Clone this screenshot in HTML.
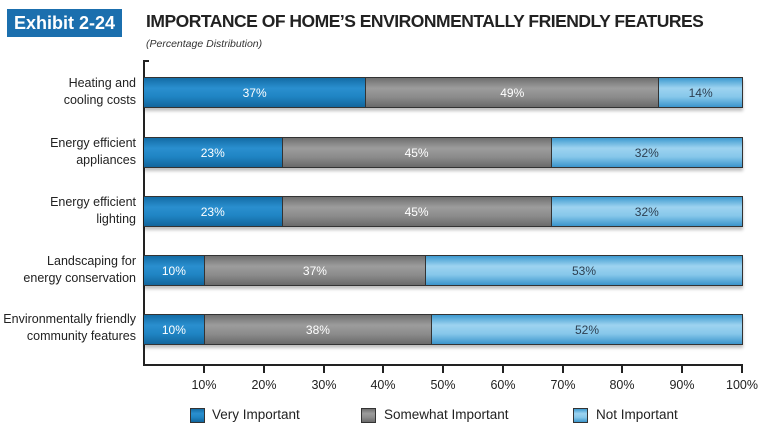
<!DOCTYPE html>
<html><head><style>
body{margin:0;width:775px;height:441px;background:#fff;font-family:"Liberation Sans",sans-serif;position:relative;overflow:hidden}
.a{position:absolute}
.ex{left:7px;top:9px;width:115px;height:28px;background:#1b6fae;color:#fff;font-weight:bold;font-size:18px;line-height:28px;text-align:center}
.t{left:146px;top:11px;font-weight:bold;font-size:17.5px;color:#222;letter-spacing:-0.5px}
.st{left:146px;top:38px;font-style:italic;font-size:10.5px;color:#333}
.lab{right:639px;text-align:right;font-size:12.5px;color:#222;line-height:17px}
.bar{left:144px;width:599px;height:31px;display:flex;border-top:1px solid #333;border-bottom:1px solid #333;border-right:1px solid #333;box-sizing:border-box;box-shadow:0 3px 3px rgba(0,0,0,0.25)}
.bar div{height:100%;color:#fff;font-size:12px;display:flex;align-items:center;justify-content:center;box-sizing:border-box}
.v{background:linear-gradient(#136ca5,#2a8fcf 35%,#1f84c3 65%,#12659c)}
.s{background:linear-gradient(#6f6f6f,#9c9c9c 35%,#8c8c8c 65%,#6a6a6a);border-left:1px solid #333}
.n{background:linear-gradient(#3d9ad0,#9dd3f0 35%,#86c7ea 65%,#3b95cb);border-left:1px solid #333;color:#2c3e50!important}
.tk{top:366px;width:2px;height:7px;background:#222}
.tl{top:378px;font-size:12.5px;color:#222;width:50px;text-align:center}
.lg{top:408px;width:15px;height:15px;border:1px solid #333;box-sizing:border-box}
.lt{top:407px;font-size:13.5px;color:#222}
</style></head><body>
<div class="a ex">Exhibit 2-24</div>
<div class="a t">IMPORTANCE OF HOME’S ENVIRONMENTALLY FRIENDLY FEATURES</div>
<div class="a st">(Percentage Distribution)</div>
<div class="a" style="left:143px;top:60px;width:2px;height:306px;background:#222"></div>
<div class="a" style="left:143px;top:60px;width:6px;height:2px;background:#222"></div>
<div class="a" style="left:143px;top:364px;width:600px;height:2px;background:#222"></div>

<div class="a lab" style="top:75px">Heating and<br>cooling costs</div>
<div class="a lab" style="top:135px">Energy efficient<br>appliances</div>
<div class="a lab" style="top:194px">Energy efficient<br>lighting</div>
<div class="a lab" style="top:253px">Landscaping for<br>energy conservation</div>
<div class="a lab" style="top:311px">Environmentally friendly<br>community features</div>

<div class="a bar" style="top:77px"><div class="v" style="width:37%">37%</div><div class="s" style="width:49%">49%</div><div class="n" style="width:14%">14%</div></div>
<div class="a bar" style="top:137px"><div class="v" style="width:23%">23%</div><div class="s" style="width:45%">45%</div><div class="n" style="width:32%">32%</div></div>
<div class="a bar" style="top:196px"><div class="v" style="width:23%">23%</div><div class="s" style="width:45%">45%</div><div class="n" style="width:32%">32%</div></div>
<div class="a bar" style="top:255px"><div class="v" style="width:10%">10%</div><div class="s" style="width:37%">37%</div><div class="n" style="width:53%">53%</div></div>
<div class="a bar" style="top:314px"><div class="v" style="width:10%">10%</div><div class="s" style="width:38%">38%</div><div class="n" style="width:52%">52%</div></div>

<div class="a tk" style="left:203px"></div><div class="a tl" style="left:179px">10%</div>
<div class="a tk" style="left:263px"></div><div class="a tl" style="left:239px">20%</div>
<div class="a tk" style="left:323px"></div><div class="a tl" style="left:299px">30%</div>
<div class="a tk" style="left:382px"></div><div class="a tl" style="left:358px">40%</div>
<div class="a tk" style="left:442px"></div><div class="a tl" style="left:418px">50%</div>
<div class="a tk" style="left:502px"></div><div class="a tl" style="left:478px">60%</div>
<div class="a tk" style="left:562px"></div><div class="a tl" style="left:538px">70%</div>
<div class="a tk" style="left:621px"></div><div class="a tl" style="left:597px">80%</div>
<div class="a tk" style="left:681px"></div><div class="a tl" style="left:657px">90%</div>
<div class="a tk" style="left:741px"></div><div class="a tl" style="left:717px">100%</div>

<div class="a lg v" style="left:190px"></div><div class="a lt" style="left:212px">Very Important</div>
<div class="a lg s" style="left:361px;border-left:1px solid #333"></div><div class="a lt" style="left:384px">Somewhat Important</div>
<div class="a lg n" style="left:573px;border-left:1px solid #333"></div><div class="a lt" style="left:596px">Not Important</div>
</body></html>
